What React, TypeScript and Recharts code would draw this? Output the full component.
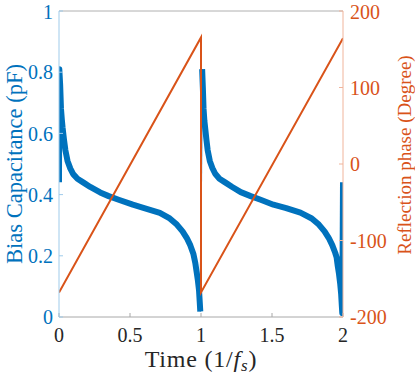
import React from 'react';
import { LineChart, Line, XAxis, YAxis, Label } from 'recharts';

// axis ticks
const timeTicks = [0, 0.5, 1, 1.5, 2];
const capTicks = [0, 0.2, 0.4, 0.6, 0.8, 1];
const phaseTicks = [-200, -100, 0, 100, 200];

// bias capacitance (pF), first period: [time, value]
const capCycle1 = [
  [0, 0.44], [0.002, 0.81], [0.008, 0.76], [0.014, 0.68], [0.02, 0.645],
  [0.025, 0.62], [0.035, 0.58], [0.045, 0.545], [0.06, 0.51], [0.08, 0.485],
  [0.1, 0.467], [0.13, 0.452], [0.17, 0.44], [0.22, 0.425], [0.29, 0.407],
  [0.35, 0.395], [0.42, 0.383], [0.52, 0.367], [0.6, 0.356], [0.71, 0.34],
  [0.78, 0.322], [0.83, 0.302], [0.87, 0.28], [0.9, 0.258], [0.925, 0.234],
  [0.946, 0.207], [0.96, 0.176], [0.97, 0.145], [0.978, 0.12], [0.986, 0.088],
  [0.991, 0.05], [0.995, 0.018],
];

// jump between periods (thin trace)
const capJump = [[0.995, 0.018], [1.008, 0.81]];

// bias capacitance (pF), second period
const capCycle2 = [
  [1.008, 0.81], [1.013, 0.75], [1.018, 0.68], [1.024, 0.64], [1.03, 0.615],
  [1.038, 0.58], [1.047, 0.545], [1.062, 0.51], [1.08, 0.487], [1.1, 0.468],
  [1.13, 0.452], [1.17, 0.44], [1.22, 0.425], [1.28, 0.408], [1.35, 0.395],
  [1.42, 0.383], [1.51, 0.367], [1.6, 0.356], [1.7, 0.341], [1.78, 0.322],
  [1.83, 0.302], [1.87, 0.28], [1.9, 0.258], [1.925, 0.234], [1.945, 0.21],
  [1.955, 0.195], [1.962, 0.17], [1.972, 0.14], [1.98, 0.11], [1.987, 0.075],
  [1.992, 0.035], [1.995, 0.013], [2.0, 0.44],
];

// reflection phase (degree)
const phaseSaw = [
  [0, -168], [1.0, 165.5], [1.0, -168], [2.0, 164.5],
];

const blue = '#0072BD';
const orange = '#D95319';
const font = 'Liberation Serif';

const toCap = (pts: number[][]) => pts.map(([t, c]) => ({ t, c }));
const toPhase = (pts: number[][]) => pts.map(([t, p]) => ({ t, p }));

export default function App() {
  return (
    <div style={{ position: 'absolute', left: 0, top: 0, fontFamily: font }}>
      <LineChart width={415} height={375} margin={{ top: 0, right: 0, bottom: 0, left: 0 }}>
        <XAxis
          xAxisId="top"
          orientation="top"
          type="number"
          dataKey="t"
          domain={[0, 2]}
          ticks={timeTicks}
          height={11}
          tick={false}
          tickSize={-4}
          axisLine={{ stroke: '#b0b0b0' }}
          tickLine={{ stroke: '#b0b0b0' }}
        />
        <XAxis
          type="number"
          dataKey="t"
          domain={[0, 2]}
          ticks={timeTicks}
          allowDataOverflow
          height={58}
          tickSize={-4}
          tickMargin={15}
          axisLine={{ stroke: '#a8a8a8' }}
          tickLine={{ stroke: '#a8a8a8' }}
          tick={{ fill: '#262626', fontSize: 20 }}
        >
          <Label
            content={() => (
              <text
                x={201}
                y={367}
                textAnchor="middle"
                fill="#262626"
                fontSize={24}
                letterSpacing={0.8}
                style={{ fontFamily: font }}
              >
                Time (1/<tspan fontStyle="italic">f</tspan>
                <tspan fontStyle="italic" fontSize={17} dy={4}>s</tspan>
                <tspan dy={-4}>)</tspan>
              </text>
            )}
          />
        </XAxis>
        <YAxis
          yAxisId="cap"
          orientation="left"
          type="number"
          domain={[0, 1]}
          ticks={capTicks}
          allowDataOverflow
          width={59}
          tickSize={-4}
          tickMargin={10}
          axisLine={{ stroke: '#9fcbea' }}
          tickLine={{ stroke: '#9fcbea' }}
          tick={{ fill: blue, fontSize: 20 }}
        >
          <Label
            content={() => (
              <text
                transform="translate(21.5,164) rotate(-90)"
                textAnchor="middle"
                fill={blue}
                fontSize={22.5}
                style={{ fontFamily: font }}
              >
                Bias Capacitance (pF)
              </text>
            )}
          />
        </YAxis>
        <YAxis
          yAxisId="phase"
          orientation="right"
          type="number"
          domain={[-200, 200]}
          ticks={phaseTicks}
          allowDataOverflow
          width={72}
          tickSize={-4}
          tickMargin={11}
          axisLine={{ stroke: '#f0b49b' }}
          tickLine={{ stroke: '#f0b49b' }}
          tick={{ fill: orange, fontSize: 20 }}
        >
          <Label
            content={() => (
              <text
                transform="translate(411,155) rotate(-90)"
                textAnchor="middle"
                fill={orange}
                fontSize={19}
                style={{ fontFamily: font }}
              >
                Reflection phase (Degree)
              </text>
            )}
          />
        </YAxis>
        <Line
          yAxisId="cap"
          data={toCap(capCycle1)}
          dataKey="c"
          type="linear"
          stroke={blue}
          strokeWidth={6}
          strokeLinejoin="round"
          dot={false}
          isAnimationActive={false}
        />
        <Line
          yAxisId="cap"
          data={toCap(capJump)}
          dataKey="c"
          type="linear"
          stroke={blue}
          strokeWidth={1.5}
          dot={false}
          isAnimationActive={false}
        />
        <Line
          yAxisId="cap"
          data={toCap(capCycle2)}
          dataKey="c"
          type="linear"
          stroke={blue}
          strokeWidth={6}
          strokeLinejoin="round"
          dot={false}
          isAnimationActive={false}
        />
        <Line
          yAxisId="phase"
          data={toPhase(phaseSaw)}
          dataKey="p"
          type="linear"
          stroke={orange}
          strokeWidth={2}
          dot={false}
          isAnimationActive={false}
        />
      </LineChart>
    </div>
  );
}
